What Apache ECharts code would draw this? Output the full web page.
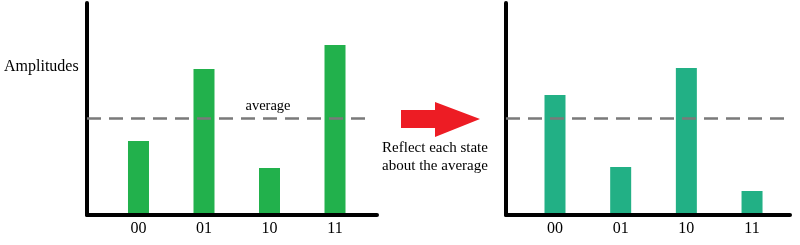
<!DOCTYPE html>
<html>
<head>
<meta charset="utf-8">
<script src="https://cdn.jsdelivr.net/npm/echarts@6/dist/echarts.min.js"></script>
<style>
html,body{margin:0;padding:0;background:#fff;}
#chart{width:800px;height:245px;}
</style>
</head>
<body>
<div id="chart"></div>
<script>
// ---- data ----
const categories = ['00', '01', '10', '11'];
const slots = [1, 2, 3, 4];
const beforeValues = [72, 144, 45, 168];
const afterValues = [118, 46, 145, 22];
const averageValue = 95;
const axisTitle = 'Amplitudes';
const averageLabel = 'average';
const stepLabel = 'Reflect each state\nabout the average';

const FONT = '"Liberation Serif", "Times New Roman", serif';

function makeX(gridIndex, min, max) {
  return {
    type: 'value', gridIndex: gridIndex, min: min, max: max,
    axisLine: { show: true, onZero: false, lineStyle: { color: '#000', width: 4 } },
    axisTick: { show: false },
    splitLine: { show: false },
    axisLabel: {
      customValues: slots,
      formatter: function (v) { return categories[Math.round(v) - 1]; },
      fontFamily: FONT, fontSize: 16, color: '#000', margin: 6
    }
  };
}
function makeY(gridIndex) {
  return {
    type: 'value', gridIndex: gridIndex, min: -2, max: 210,
    axisLine: { show: true, onZero: false, lineStyle: { color: '#000', width: 4 } },
    axisTick: { show: false },
    splitLine: { show: false },
    axisLabel: { show: false }
  };
}
function makeSeries(idx, values, color, lineFrom, lineTo) {
  return {
    type: 'bar', xAxisIndex: idx, yAxisIndex: idx,
    data: slots.map(function (s, i) { return [s, values[i]]; }),
    barWidth: 21,
    itemStyle: { color: color },
    silent: true,
    markLine: {
      silent: true, symbol: 'none', animation: false,
      label: { show: false },
      lineStyle: { type: [14, 8], width: 2.5, color: '#7a7a7a' },
      data: [[{ coord: [lineFrom, averageValue] }, { coord: [lineTo, averageValue] }]]
    }
  };
}

const chart = echarts.init(document.getElementById('chart'), null, { renderer: 'canvas' });
chart.setOption({
  animation: false,
  grid: [
    { left: 87, top: 3, width: 290, height: 212 },
    { left: 506, top: 3, width: 284, height: 212 }
  ],
  xAxis: [makeX(0, 0.214, 4.641), makeX(1, 0.254, 4.578)],
  yAxis: [makeY(0), makeY(1)],
  series: [
    makeSeries(0, beforeValues, '#22b14c', 0.214, 4.55),
    makeSeries(1, afterValues, '#22b085', 0.254, 4.55)
  ],
  graphic: [
    { type: 'text', left: 4, top: 59, style: { text: axisTitle, font: '16px ' + FONT, fill: '#000' } },
    { type: 'text', x: 268, y: 106, style: { text: averageLabel, font: '14.5px ' + FONT, fill: '#000', align: 'center', verticalAlign: 'middle' } },
    { type: 'polygon', shape: { points: [[401,110],[435,110],[435,102],[480,119],[435,137],[435,128],[401,128]] }, style: { fill: '#ed1c24' } },
    { type: 'text', x: 435, y: 157, style: { text: stepLabel, font: '15px ' + FONT, lineHeight: 18, fill: '#000', align: 'center', verticalAlign: 'middle' } }
  ]
});
</script>
</body>
</html>
